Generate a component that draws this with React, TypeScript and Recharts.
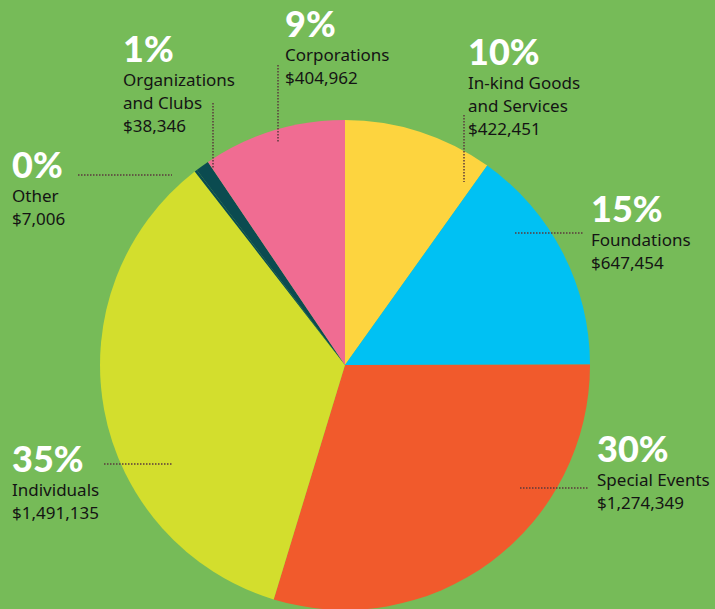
import { Cell, Pie, PieChart } from "recharts";

const sources = [
  "In-kind Goods and Services",
  "Foundations",
  "Special Events",
  "Individuals",
  "Other",
  "Organizations and Clubs",
  "Corporations",
];
const labelLines = [
  ["In-kind Goods", "and Services"],
  ["Foundations"],
  ["Special Events"],
  ["Individuals"],
  ["Other"],
  ["Organizations", "and Clubs"],
  ["Corporations"],
];
const amounts = [422451, 647454, 1274349, 1491135, 7006, 38346, 404962];

const COLORS = ["#fdd43f", "#00c1f3", "#f15a2c", "#d3de2d", "#0b4b50", "#0b4b50", "#f06c92"];
const BG = "#76bb58";

// label placement: x, baseline of the percentage, dotted leader line
const LAYOUT = [
  { x: 468, y: 65, line: [464, 115, 464, 182] },
  { x: 591, y: 222, line: [515, 233, 583, 233] },
  { x: 597, y: 462, line: [520, 488, 588, 488] },
  { x: 12, y: 472, line: [104, 464, 172, 464] },
  { x: 12, y: 178, line: [78, 175, 172, 175] },
  { x: 123, y: 62, line: [213, 103, 213, 168] },
  { x: 285, y: 37, line: [278, 65, 278, 143] },
];

const data = sources.map((name, i) => ({ name, value: amounts[i] }));
const total = amounts.reduce((s, v) => s + v, 0);
const money = (v: number) => "$" + v.toLocaleString("en-US");

function renderLabel(props: any) {
  const i = props.index;
  const l = LAYOUT[i];
  const pct = Math.round((amounts[i] / total) * 100);
  const lines = [...labelLines[i], money(amounts[i])];
  return (
    <g key={`lbl-${i}`}>
      <line
        x1={l.line[0]}
        y1={l.line[1]}
        x2={l.line[2]}
        y2={l.line[3]}
        stroke="#5b3a3c"
        strokeWidth={1.5}
        strokeDasharray="1.5 1.5"
      />
      <text x={l.x} y={l.y} fill="#ffffff" fontFamily="Lato" fontWeight={900} fontSize={36}>
        {pct}%
      </text>
      {lines.map((t, k) => (
        <text
          key={k}
          x={l.x}
          y={l.y + 24 + k * 23}
          fill="#141414"
          fontFamily="'Noto Sans'"
          fontSize={17}
        >
          {t}
        </text>
      ))}
    </g>
  );
}

export default function App() {
  return (
    <div style={{ position: "fixed", left: 0, top: 0, width: 715, height: 609, background: BG, overflow: "hidden" }}>
      <PieChart width={715} height={609} margin={{ top: 0, right: 0, bottom: 0, left: 0 }}>
        <Pie
          data={data}
          dataKey="value"
          nameKey="name"
          cx={345}
          cy={365}
          outerRadius={245}
          startAngle={90}
          endAngle={-270}
          stroke="none"
          label={renderLabel}
          labelLine={false}
          isAnimationActive={false}
        >
          {data.map((_, i) => (
            <Cell key={i} fill={COLORS[i]} />
          ))}
        </Pie>
      </PieChart>
    </div>
  );
}
